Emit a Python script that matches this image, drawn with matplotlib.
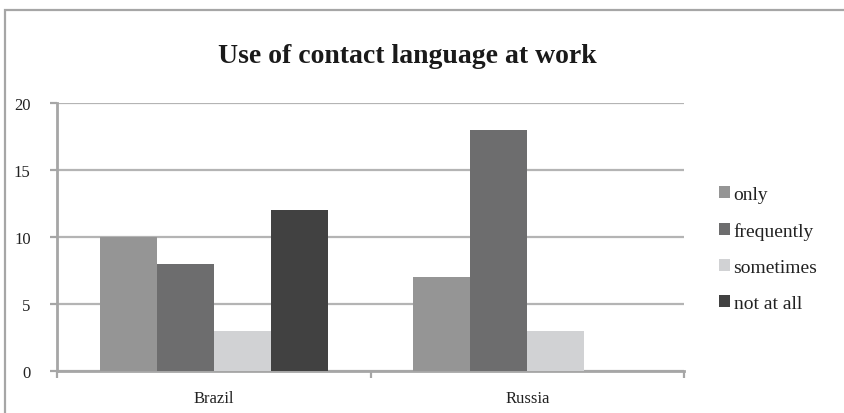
import matplotlib
matplotlib.use("Agg")
import matplotlib.pyplot as plt
from matplotlib.patches import Rectangle
import numpy as np

plt.rcParams['font.family'] = ['Liberation Serif', 'DejaVu Serif']

countries = ["Brazil", "Russia"]
series_names = ["only", "frequently", "sometimes", "not at all"]
only = [10, 7]
frequently = [8, 18]
sometimes = [3, 3]
not_at_all = [12, 0]
y_ticks = [0, 5, 10, 15, 20]

series_values = [only, frequently, sometimes, not_at_all]
colors = ["#959595", "#6d6d6e", "#d1d2d4", "#414141"]

fig = plt.figure(figsize=(8.44, 4.14), dpi=100)
W, H = 844, 414

# chart frame
fig.patches.append(Rectangle((5 / W, -0.2), 1.2, 1.2 - 11 / H,
                             transform=fig.transFigure, fill=False,
                             edgecolor="#a6a6a6", linewidth=1.6))

ax = fig.add_axes([57 / W, 1 - 372 / H, (684 - 57) / W, (372 - 104) / H])

x = np.arange(len(countries))
n = len(series_names)
w = 1 / (n + 1.5)
for i, (name, vals, c) in enumerate(zip(series_names, series_values, colors)):
    ax.bar(x + (i - (n - 1) / 2) * w, vals, width=w, color=c, label=name,
           zorder=3, linewidth=0)

ax.set_xlim(-0.5, len(countries) - 0.5)
ax.set_ylim(0, 20)
ax.set_yticks(y_ticks)
ax.set_yticklabels([str(v) for v in y_ticks], fontsize=12, color="#222222")
ax.yaxis.grid(True, color="#b4b4b4", linewidth=1.6, zorder=0)
ax.set_axisbelow(True)

ax.set_xticks(x)
ax.set_xticklabels(countries, fontsize=12, color="#222222")
ax.tick_params(axis="x", length=0, pad=14)
ax.tick_params(axis="y", length=5, width=1.6, color="#a6a6a6", pad=14)
# category separators on the x axis
ax.set_xticks(np.arange(-0.5, len(countries) + 0.5, 1), minor=True)
ax.tick_params(axis="x", which="minor", length=5, width=1.6, color="#a6a6a6")

for s in ["top", "right"]:
    ax.spines[s].set_visible(False)
for s in ["left", "bottom"]:
    ax.spines[s].set_color("#a6a6a6")
    ax.spines[s].set_linewidth(2)

fig.text(407 / W, 1 - 57 / H, "Use of contact language at work",
         ha="center", va="center", fontsize=20, fontweight="bold",
         color="#1a1a1a")

leg = fig.legend(loc="upper left", bbox_to_anchor=(719 / W, 1 - 187 / H),
                 frameon=False, fontsize=14, handlelength=0.55,
                 handleheight=0.55, handletextpad=0.2, labelspacing=0.98,
                 borderaxespad=0, borderpad=0)
for t in leg.get_texts():
    t.set_color("#222222")

fig.savefig("out.png", dpi=100)
